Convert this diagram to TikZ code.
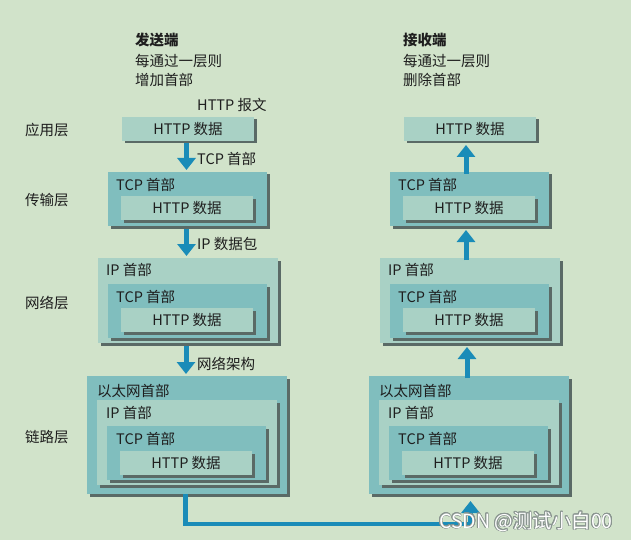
\documentclass[tikz,border=0pt]{standalone}
\usepackage{fontspec}
\setmainfont{Noto Sans CJK SC}
\usepackage{contour}
\contourlength{0.7pt}
\contournumber{16}
\usetikzlibrary{arrows.meta,shadows,calc}
\definecolor{bgc}{HTML}{D1E3CA}
\definecolor{tealA}{HTML}{80BEBE}
\definecolor{tealB}{HTML}{A9D1C5}
\definecolor{shadc}{HTML}{5A6A66}
\definecolor{arrc}{HTML}{1A8CB8}
\definecolor{txtc}{HTML}{1E1E1E}
\definecolor{wmc}{HTML}{8A9590}
\tikzset{
  base/.style={anchor=north west, inner sep=0pt, outer sep=0pt, draw=none,
    general shadow={fill=shadc, shadow xshift=2.5pt, shadow yshift=-2.5pt}},
  httpbox/.style={base, fill=tealB, minimum width=132pt, minimum height=24pt,
    font=\fontsize{14.5}{16}\selectfont, text=txtc},
  tcpbox/.style={base, fill=tealA, minimum width=159pt, minimum height=54pt},
  ipbox/.style={base, fill=tealB, minimum width=180pt, minimum height=85pt},
  ethbox/.style={base, fill=tealA, minimum width=200pt, minimum height=118pt},
  hdr/.style={anchor=west, inner sep=0pt, font=\fontsize{14.5}{16}\selectfont, text=txtc},
  lbl/.style={anchor=west, inner sep=0pt, font=\fontsize{14.5}{16}\selectfont, text=txtc},
  arr/.style={draw=arrc, line width=5pt, -{Triangle[width=18pt,length=12pt]}},
  conn/.style={draw=arrc, line width=4.5pt},
}
\begin{document}
\begin{tikzpicture}[x=1pt,y=-1pt]
\fill[bgc] (0,0) rectangle (631,540);
\useasboundingbox (0,0) rectangle (631,540);

% titles
\node[lbl, font=\fontsize{14.5}{16}\selectfont\bfseries] (sendT) at (135,40) {发送端};
\node[lbl] (sendA) at (135,61) {每通过一层则};
\node[lbl] (sendB) at (135,80) {增加首部};
\node[lbl] (msg) at (197,105) {HTTP 报文};
\node[lbl, font=\fontsize{14.5}{16}\selectfont\bfseries] (recvT) at (403,40) {接收端};
\node[lbl] (recvA) at (403,61) {每通过一层则};
\node[lbl] (recvB) at (403,80) {删除首部};

% layer names
\node[lbl] (l1) at (25,130) {应用层};
\node[lbl] (l2) at (25,200) {传输层};
\node[lbl] (l3) at (25,303) {网络层};
\node[lbl] (l4) at (25,437) {链路层};

% ---------------- left column ----------------
\node[httpbox] (appL) at (122,117) {HTTP 数据};

\node[tcpbox] (tcpL) at (108,172) {};
\node[hdr] (tcpLh) at (116,185) {TCP 首部};
\node[httpbox] (tcpLd) at (121,196) {HTTP 数据};

\node[ipbox] (ipL) at (98,258) {};
\node[hdr] (ipLh) at (106,270) {IP 首部};
\node[tcpbox] (ipLt) at (108,284) {};
\node[hdr] (ipLth) at (116,297) {TCP 首部};
\node[httpbox] (ipLd) at (121,308) {HTTP 数据};

\node[ethbox] (ethL) at (87,376) {};
\node[hdr] (ethLh) at (97,391) {以太网首部};
\node[ipbox] (ethLi) at (97,400) {};
\node[hdr] (ethLih) at (106,413) {IP 首部};
\node[tcpbox] (ethLt) at (107,426) {};
\node[hdr] (ethLth) at (116,439) {TCP 首部};
\node[httpbox] (ethLd) at (120,451) {HTTP 数据};

% ---------------- right column ----------------
\node[httpbox] (appR) at (404,117) {HTTP 数据};

\node[tcpbox] (tcpR) at (390,172) {};
\node[hdr] (tcpRh) at (398,185) {TCP 首部};
\node[httpbox] (tcpRd) at (403,196) {HTTP 数据};

\node[ipbox] (ipR) at (380,258) {};
\node[hdr] (ipRh) at (388,270) {IP 首部};
\node[tcpbox] (ipRt) at (390,284) {};
\node[hdr] (ipRth) at (398,297) {TCP 首部};
\node[httpbox] (ipRd) at (403,308) {HTTP 数据};

\node[ethbox] (ethR) at (369,376) {};
\node[hdr] (ethRh) at (379,391) {以太网首部};
\node[ipbox] (ethRi) at (379,400) {};
\node[hdr] (ethRih) at (388,413) {IP 首部};
\node[tcpbox] (ethRt) at (389,426) {};
\node[hdr] (ethRth) at (398,439) {TCP 首部};
\node[httpbox] (ethRd) at (402,451) {HTTP 数据};

% ---------------- arrows left (down) ----------------
\draw[arr] ([xshift=-1.5pt,yshift=-2.5pt]appL.south) -- ([xshift=-1.5pt,yshift=2pt]appL.south |- tcpL.north);
\draw[arr] ([xshift=-1pt,yshift=-3pt]tcpL.south) -- ([xshift=-1pt,yshift=2pt]tcpL.south |- ipL.north);
\draw[arr] ([xshift=-2pt,yshift=-3pt]ipL.south) -- ([xshift=-2pt,yshift=2pt]ipL.south |- ethL.north);
\node[lbl] (a1) at (197,159) {TCP 首部};
\node[lbl] (a2) at (197,244) {IP 数据包};
\node[lbl] (a3) at (197,364) {网络架构};

% ---------------- arrows right (up) ----------------
\draw[arr] ([xshift=-4pt,yshift=-2pt]appR.south |- tcpR.north) -- ([xshift=-4pt,yshift=-4pt]appR.south);
\draw[arr] ([xshift=-3.5pt,yshift=-2pt]tcpR.south |- ipR.north) -- ([xshift=-3.5pt,yshift=-4pt]tcpR.south);
\draw[arr] ([xshift=-3pt,yshift=-2pt]ipR.south |- ethR.north) -- ([xshift=-3pt,yshift=-4pt]ipR.south);

% ---------------- bottom connector ----------------
\coordinate (turnL) at ($(ethL.south)+(-1.5,30)$);
\coordinate (turnR) at ($(ethR.south)+(1.5,30)$);
\draw[conn] ([xshift=-1.5pt]ethL.south) -- (turnL) -- ([xshift=2.25pt]turnR);
\draw[arr, line width=4.5pt] (turnR) -- ([xshift=1.5pt,yshift=-7pt]ethR.south);

% watermark
\node[anchor=west, inner sep=0pt, text=white, font=\fontsize{19.5}{21}\selectfont] (wm) at (439,522) {\contour{wmc}{CSDN @测试小白00}};
\end{tikzpicture}
\end{document}
